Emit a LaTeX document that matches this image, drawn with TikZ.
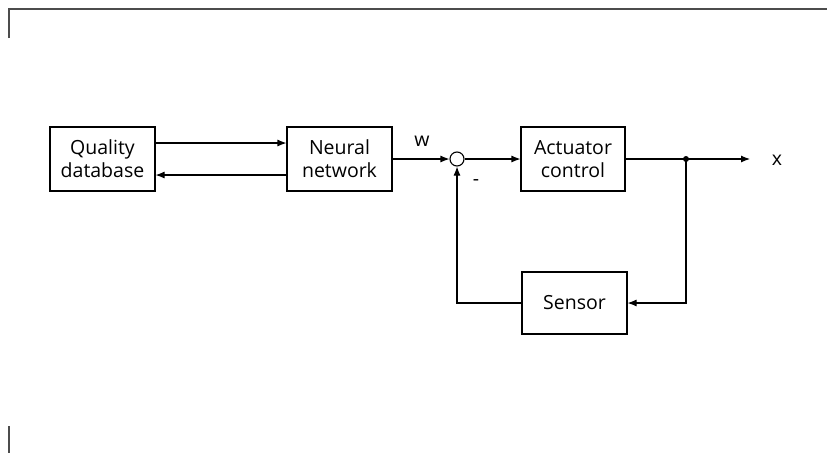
\documentclass[tikz,border=0pt]{standalone}
\usepackage{fontspec}
\setmainfont{Open Sans}
\usetikzlibrary{arrows.meta}
\begin{document}
\begin{tikzpicture}[x=1pt,y=-1pt,
  blockbox/.style={draw,line width=1.1pt,minimum width=105pt,minimum height=64pt,inner sep=0pt,align=center,font=\fontsize{19.5}{23}\selectfont},
  lbl/.style={font=\fontsize{19.5}{23}\selectfont,inner sep=0pt},
  conn/.style={line width=1.1pt,-{Latex[length=9pt,width=7pt]}},
  framel/.style={draw=black!70,line width=2.2pt}]
\useasboundingbox (0,0) rectangle (827,453);
\draw[framel] (9,38) -- (9,9) -- (827,9);
\draw[framel] (9,426) -- (9,453);
\node[blockbox] (qd) at (102.5,159) {Quality\\database};
\node[blockbox] (nn) at (339.5,159) {Neural\\network};
\node[draw,circle,line width=1.1pt,minimum size=14pt,inner sep=0pt] (sum) at (457,159) {};
\node[blockbox,minimum width=104pt] (ac) at (573,159) {Actuator\\control};
\node[blockbox,minimum height=62pt] (sen) at (574.5,303) {Sensor};
\fill (686,159) circle (3pt);
\coordinate (dot) at (686,159);
\coordinate (out) at (750,159);
\coordinate (sr) at (686,303);
\coordinate (sl) at (457,303);
\node[lbl] (w) at (422,141) {w};
\node[lbl] (minus) at (476,183) {-};
\node[lbl] (xl) at (777,160) {x};
\draw[conn] (qd.east |- 0,143) -- (nn.west |- 0,143);
\draw[conn] (nn.west |- 0,175) -- (qd.east |- 0,175);
\draw[conn] (nn.east) -- (sum.west);
\draw[conn] (sum.east) -- (ac.west);
\draw[conn] (ac.east) -- (out);
\draw[conn] (dot) -- (sr) -- (sen.east);
\draw[conn] (sen.west) -- (sl) -- (sum.south);
\end{tikzpicture}
\end{document}
